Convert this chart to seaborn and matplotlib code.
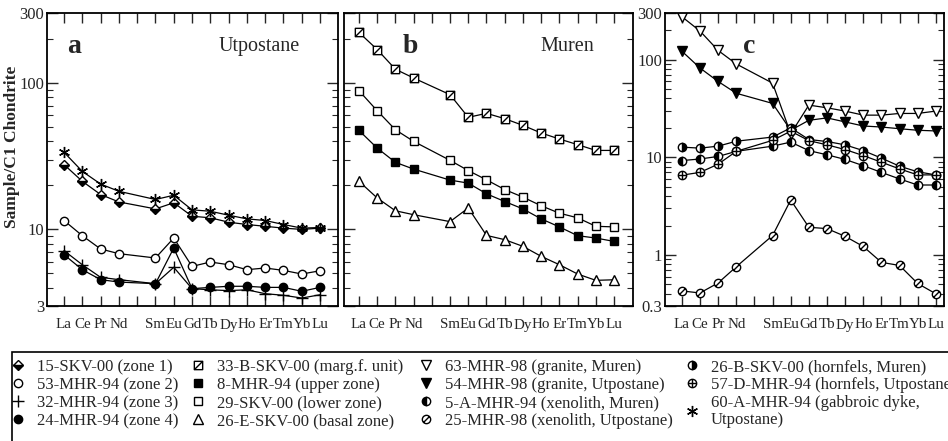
import numpy as np
import matplotlib.pyplot as plt
import seaborn as sns
from matplotlib.path import Path
from matplotlib.lines import Line2D
from matplotlib.patches import Rectangle
from matplotlib.ticker import FixedLocator, FixedFormatter, NullFormatter

sns.set_style("ticks")
plt.rcParams['font.family'] = ['Liberation Serif', 'DejaVu Serif']

# REE slots on the x axis (Pm is not analysed, so it is only a gap)
slots = ['La', 'Ce', 'Pr', 'Nd', 'Pm', 'Sm', 'Eu', 'Gd', 'Tb', 'Dy', 'Ho', 'Er', 'Tm', 'Yb', 'Lu']
elements = ['La', 'Ce', 'Pr', 'Nd', 'Sm', 'Eu', 'Gd', 'Tb', 'Dy', 'Ho', 'Er', 'Tm', 'Yb', 'Lu']

# panel a - Utpostane
skv15 = [27.7, 21.3, 17.3, 15.4, 13.8, 15.2, 12.3, 12.0, 11.2, 10.8, 10.5, 10.2, 10.0, 10.2]
mhr53 = [11.5, 9.06, 7.35, 6.83, 6.38, 8.73, 5.59, 5.99, 5.74, 5.31, 5.45, 5.25, 4.96, 5.22]
mhr32 = [7.16, 5.74, 4.71, 4.54, 4.26, 5.51, 3.94, 3.87, 3.82, 3.87, 3.64, 3.55, 3.40, 3.58]
mhr24 = [6.72, 5.31, 4.54, 4.37, 4.26, 7.46, 3.94, 4.02, 4.09, 4.09, 4.02, 4.02, 3.78, 4.02]
mhr60a = [33.6, 24.9, 20.4, 18.2, 16.0, 17.1, 13.6, 13.3, 12.5, 11.8, 11.5, 10.8, 10.2, 10.3]

# panel b - Muren
skv33b = [221, 169, 124, 108, 83.1, 58.2, 62.0, 57.0, 51.3, 45.5, 41.4, 37.9, 34.6, 34.6]
mhr8 = [47.4, 35.9, 28.7, 25.8, 21.7, 20.7, 17.5, 15.5, 13.8, 11.8, 10.4, 9.06, 8.73, 8.28]
skv29 = [88.5, 64.6, 47.9, 39.9, 29.6, 25.2, 21.8, 18.7, 16.6, 14.5, 12.9, 12.0, 10.5, 10.4]
skv26e = [21.3, 16.4, 13.4, 12.6, 11.3, 14.0, 9.10, 8.51, 7.66, 6.55, 5.74, 4.96, 4.49, 4.53]

# panel c - granites, xenoliths, hornfels
mhr63 = [275, 196, 124, 90.2, 57.4, 17.4, 34.2, 32.1, 29.7, 27.0, 27.0, 28.1, 28.1, 29.7]
mhr54 = [122, 82.0, 59.7, 45.2, 35.6, 18.9, 23.9, 25.3, 23.0, 20.9, 20.4, 19.6, 18.9, 18.6]
skv26b = [12.7, 12.4, 13.0, 14.6, 16.1, 20.0, 15.2, 14.5, 13.4, 11.7, 9.8, 8.1, 7.1, 6.6]
mhr5a = [9.25, 9.6, 10.2, 11.5, 13.0, 14.3, 11.7, 10.6, 9.5, 8.2, 7.0, 6.0, 5.2, 5.2]
mhr57d = [6.56, 7.0, 8.5, 11.5, 14.9, 18.5, 14.8, 13.4, 12.0, 10.4, 8.9, 7.6, 6.6, 6.6]
mhr25 = [0.428, 0.408, 0.517, 0.757, 1.58, 3.65, 1.92, 1.86, 1.55, 1.22, 0.84, 0.78, 0.51, 0.40]

xpos = np.array([slots.index(e) for e in elements])

# custom marker shapes
sq_diag = Path([(-1, -1), (1, -1), (1, 1), (-1, 1), (-1, -1), (-1, -1), (1, 1)],
               [Path.MOVETO, Path.LINETO, Path.LINETO, Path.LINETO, Path.CLOSEPOLY,
                Path.MOVETO, Path.LINETO])
circ = Path.unit_circle()
circ_plus = Path(np.vstack([circ.vertices, [(-1, 0), (1, 0), (0, -1), (0, 1)]]),
                 np.concatenate([circ.codes, [Path.MOVETO, Path.LINETO, Path.MOVETO, Path.LINETO]]))
circ_slash = Path(np.vstack([circ.vertices, [(-0.7, -0.7), (0.7, 0.7)]]),
                  np.concatenate([circ.codes, [Path.MOVETO, Path.LINETO]]))

styles = {
    '15-SKV-00 (zone 1)': dict(marker='D', ms=5, fillstyle='bottom', mfc='k', mfcalt='w'),
    '53-MHR-94 (zone 2)': dict(marker='o', ms=6, mfc='w'),
    '32-MHR-94 (zone 3)': dict(marker='+', ms=8, mfc='k'),
    '24-MHR-94 (zone 4)': dict(marker='o', ms=6, mfc='k'),
    '33-B-SKV-00 (marg.f. unit)': dict(marker=sq_diag, ms=6, mfc='w'),
    '8-MHR-94 (upper zone)': dict(marker='s', ms=6, mfc='k'),
    '29-SKV-00 (lower zone)': dict(marker='s', ms=6, mfc='w'),
    '26-E-SKV-00 (basal zone)': dict(marker='^', ms=6.5, mfc='w'),
    '63-MHR-98 (granite, Muren)': dict(marker='v', ms=6.5, mfc='w'),
    '54-MHR-98 (granite, Utpostane)': dict(marker='v', ms=6.5, mfc='k'),
    '5-A-MHR-94 (xenolith, Muren)': dict(marker='o', ms=6, fillstyle='left', mfc='k', mfcalt='w'),
    '25-MHR-98 (xenolith, Utpostane)': dict(marker=circ_slash, ms=6, mfc='w'),
    '26-B-SKV-00 (hornfels, Muren)': dict(marker='o', ms=6, fillstyle='right', mfc='k', mfcalt='w'),
    '57-D-MHR-94 (hornfels, Utpostane)': dict(marker=circ_plus, ms=6, mfc='w'),
    '60-A-MHR-94 (gabbroic dyke,\nUtpostane)': dict(marker=(6, 2, 0), ms=8, mfc='k'),
}

panels = [
    ('a', 'Utpostane', [('15-SKV-00 (zone 1)', skv15), ('53-MHR-94 (zone 2)', mhr53),
                        ('32-MHR-94 (zone 3)', mhr32), ('24-MHR-94 (zone 4)', mhr24),
                        ('60-A-MHR-94 (gabbroic dyke,\nUtpostane)', mhr60a)]),
    ('b', 'Muren', [('33-B-SKV-00 (marg.f. unit)', skv33b), ('8-MHR-94 (upper zone)', mhr8),
                    ('29-SKV-00 (lower zone)', skv29), ('26-E-SKV-00 (basal zone)', skv26e)]),
    ('c', '', [('63-MHR-98 (granite, Muren)', mhr63), ('54-MHR-98 (granite, Utpostane)', mhr54),
               ('26-B-SKV-00 (hornfels, Muren)', skv26b), ('5-A-MHR-94 (xenolith, Muren)', mhr5a),
               ('57-D-MHR-94 (hornfels, Utpostane)', mhr57d), ('25-MHR-98 (xenolith, Utpostane)', mhr25)]),
]

W, H = 948, 441
fig = plt.figure(figsize=(W / 100, H / 100), dpi=100)

# axes rectangles in pixels: left, right, xlim
top_px, bot_px = 13, 306
rects = [(47, 338, (-0.93, 14.98)), (344, 633, (-0.82, 15.04)), (665, 944, (-0.93, 14.45))]


def style_kw(st):
    kw = dict(marker=st['marker'], markersize=st['ms'], markerfacecolor=st['mfc'],
              markeredgecolor='k', markeredgewidth=1.0)
    if 'fillstyle' in st:
        kw['fillstyle'] = st['fillstyle']
        kw['markerfacecoloralt'] = st['mfcalt']
    return kw


for i, (letter, place, series) in enumerate(panels):
    l, r, xl = rects[i]
    ax = fig.add_axes([l / W, 1 - bot_px / H, (r - l) / W, (bot_px - top_px) / H])
    for name, vals in series:
        sns.lineplot(x=xpos, y=vals, ax=ax, color='k', linewidth=0.9, legend=False,
                     **style_kw(styles[name]))
    ax.set_yscale('log')
    ax.set_xlim(*xl)
    if letter == 'c':
        ax.set_ylim(0.3, 300)
        major = [0.3, 1, 10, 100, 300]
        minor = [0.4, 0.5, 0.6, 0.7, 0.8, 0.9] + list(range(2, 10)) + list(range(20, 100, 10)) + [200]
    else:
        ax.set_ylim(3, 300)
        major = [3, 10, 100, 300]
        minor = list(range(4, 10)) + list(range(20, 100, 10)) + [200]
    ax.yaxis.set_major_locator(FixedLocator(major))
    ax.yaxis.set_major_formatter(FixedFormatter([f'{m:g}' for m in major]))
    ax.yaxis.set_minor_locator(FixedLocator(minor))
    ax.yaxis.set_minor_formatter(NullFormatter())
    ax.set_xticks(range(len(slots)))
    ax.set_xticklabels(['' if s == 'Pm' else s for s in slots])
    ax.tick_params(axis='x', which='both', direction='in', top=True, bottom=True,
                   length=7, width=1, labelsize=10.8, pad=9)
    ax.tick_params(axis='y', which='major', direction='in', left=True, right=True,
                   length=8, width=1, labelsize=12, pad=2, labelleft=(letter != 'b'))
    ax.tick_params(axis='y', which='minor', direction='in', left=True, right=True,
                   length=4, width=0.8)
    ax.set_xlabel('')
    ax.set_ylabel('')
    for sp in ax.spines.values():
        sp.set_linewidth(1.3)
        sp.set_color('k')
    lx = {'a': 0.069, 'b': 0.204, 'c': 0.28}[letter]
    ax.text(lx, 0.885, letter, transform=ax.transAxes, fontsize=20, fontweight='bold',
            ha='left', va='center')
    if place:
        px = {'a': 0.588, 'b': 0.678}[letter]
        ax.text(px, 0.885, place, transform=ax.transAxes, fontsize=14.5, ha='left', va='center')

fig.text(12 / W, 1 - 147 / H, 'Sample/C1 Chondrite', rotation=90, fontsize=12.5,
         fontweight='bold', ha='center', va='center')

# legend frame
fig.patches.append(Rectangle((12 / W, -0.1), 1.1, (H - 352) / H + 0.1, transform=fig.transFigure,
                             fill=False, lw=1.2, ec='k'))

columns = [
    (10, ['15-SKV-00 (zone 1)', '53-MHR-94 (zone 2)', '32-MHR-94 (zone 3)', '24-MHR-94 (zone 4)']),
    (190, ['33-B-SKV-00 (marg.f. unit)', '8-MHR-94 (upper zone)', '29-SKV-00 (lower zone)',
           '26-E-SKV-00 (basal zone)']),
    (418, ['63-MHR-98 (granite, Muren)', '54-MHR-98 (granite, Utpostane)',
           '5-A-MHR-94 (xenolith, Muren)', '25-MHR-98 (xenolith, Utpostane)']),
    (684, ['26-B-SKV-00 (hornfels, Muren)', '57-D-MHR-94 (hornfels, Utpostane)',
           '60-A-MHR-94 (gabbroic dyke,\nUtpostane)']),
]
for x0, names in columns:
    handles = [Line2D([], [], linestyle='none', color='k', **style_kw(styles[n])) for n in names]
    leg = fig.legend(handles, names, loc='upper left', bbox_to_anchor=(x0 / W, 1 - 359 / H),
                     frameon=False, fontsize=12, handlelength=1.0, handletextpad=0.6,
                     labelspacing=0.12, borderpad=0, borderaxespad=0)
    for t in leg.get_texts():
        t.set_linespacing(1.05)

fig.savefig('out.png', dpi=100)
